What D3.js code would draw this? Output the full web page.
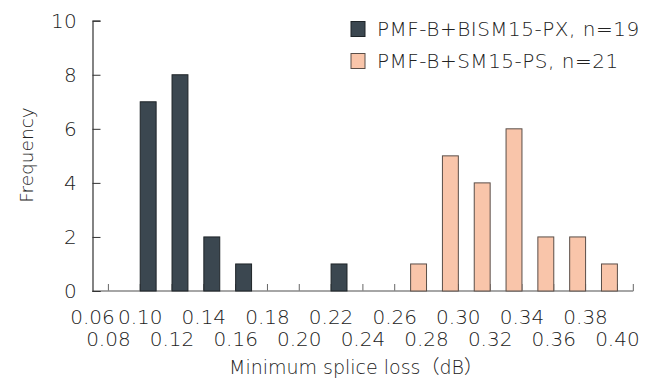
<!DOCTYPE html>
<html>
<head>
<meta charset="utf-8">
<script src="https://cdn.jsdelivr.net/npm/d3@7"></script>
<style>
  html, body { margin: 0; padding: 0; background: #fff; }
  svg text { font-family: "DejaVu Sans", "Noto Sans CJK JP", sans-serif; font-weight: 200; fill: #222; }
</style>
</head>
<body>
<svg id="chart" width="664" height="378"></svg>
<script>
// Histogram bins (lower edge of each 0.02 dB bin)
const binStarts = [0.08, 0.10, 0.12, 0.14, 0.16, 0.18, 0.20, 0.22, 0.24, 0.26, 0.28, 0.30, 0.32, 0.34, 0.36, 0.38];
// Counts per bin for each fiber combination
const bismCounts = [0, 7, 8, 2, 1, 0, 0, 1, 0, 0, 0, 0, 0, 0, 0, 0];
const smCounts   = [0, 0, 0, 0, 0, 0, 0, 0, 0, 1, 5, 4, 6, 2, 2, 1];
const seriesNames = ["PMF-B+BISM15-PX, n=19", "PMF-B+SM15-PS, n=21"];
const seriesColors = ["#3b4750", "#f9c5aa"];
const seriesStrokes = ["#1e2428", "#5a4e48"];
// Axis tick labels
const xTickLabels = ["0.06", "0.08", "0.10", "0.12", "0.14", "0.16", "0.18", "0.20", "0.22",
                     "0.24", "0.26", "0.28", "0.30", "0.32", "0.34", "0.36", "0.38", "0.40"];
const yTicks = [0, 2, 4, 6, 8, 10];
const binWidth = 0.02;

const svg = d3.select("#chart");

const x = d3.scaleLinear().domain([0.07, 0.41]).range([92.5, 633.3]);
const y = d3.scaleLinear().domain([0, 10]).range([291, 20.7]);

// x-axis ticks (pointing up into the plot) and axis line
const xTickVals = binStarts.concat([0.40, 0.41]);
svg.append("g").selectAll("line").data(xTickVals).join("line")
  .attr("x1", d => x(d)).attr("x2", d => x(d))
  .attr("y1", y(0)).attr("y2", y(0) - 7)
  .attr("stroke", "#666").attr("stroke-width", 1);
svg.append("line")
  .attr("x1", x(0.07)).attr("x2", x(0.41))
  .attr("y1", y(0)).attr("y2", y(0))
  .attr("stroke", "#888").attr("stroke-width", 1.5);

// Bars: first series in the left half of each bin, second in the right half
const bars = [];
binStarts.forEach((b, i) => {
  if (bismCounts[i] > 0) bars.push({ x0: b, x1: b + binWidth / 2, v: bismCounts[i], s: 0 });
  if (smCounts[i] > 0) bars.push({ x0: b + binWidth / 2, x1: b + binWidth, v: smCounts[i], s: 1 });
});
svg.append("g").selectAll("rect").data(bars).join("rect")
  .attr("x", d => x(d.x0))
  .attr("width", d => x(d.x1) - x(d.x0))
  .attr("y", d => y(d.v))
  .attr("height", d => y(0) - y(d.v))
  .attr("fill", d => seriesColors[d.s])
  .attr("stroke", d => seriesStrokes[d.s])
  .attr("stroke-width", 1);

// y axis
const yAxis = d3.axisRight(y).tickValues(yTicks).tickSize(8).tickFormat("");
const gy = svg.append("g").attr("transform", `translate(${x(0.07)},0)`).call(yAxis);
gy.select(".domain").attr("stroke", "#333").attr("stroke-width", 1.2);
gy.selectAll(".tick line").attr("stroke", "#333");
svg.append("g").selectAll("text").data(yTicks).join("text")
  .attr("x", 77).attr("y", d => y(d))
  .attr("dy", "0.36em")
  .attr("text-anchor", "end")
  .style("font-size", "20px")
  .style("letter-spacing", "0.3px")
  .text(d => d);

// x tick labels, staggered over two rows
const [xr0, xr1] = x.range();
svg.append("g").selectAll("text").data(xTickLabels).join("text")
  .attr("x", d => Math.max(xr0, Math.min(xr1 - 8, x(+d))))
  .attr("y", (d, i) => i % 2 === 0 ? 317 : 339)
  .attr("dy", "0.36em")
  .attr("text-anchor", "middle")
  .style("font-size", "20px")
  .text(d => d);

// Axis titles
svg.append("text")
  .attr("x", 356).attr("y", 367).attr("dy", "0.36em")
  .attr("text-anchor", "middle")
  .style("font-size", "19px")
  .text("Minimum splice loss（dB）");
svg.append("text")
  .attr("transform", "translate(26,155) rotate(-90)")
  .attr("dy", "0.36em")
  .attr("text-anchor", "middle")
  .style("font-size", "18.5px")
  .text("Frequency");

// Legend
const legend = svg.append("g").selectAll("g").data(seriesNames).join("g")
  .attr("transform", (d, i) => `translate(351,${[29, 61][i]})`);
legend.append("rect")
  .attr("x", 0).attr("y", -7.5).attr("width", 14).attr("height", 15)
  .attr("fill", (d, i) => seriesColors[i])
  .attr("stroke", (d, i) => seriesStrokes[i]).attr("stroke-width", 1);
legend.append("text")
  .attr("x", 26).attr("dy", "0.36em")
  .style("font-size", "20px")
  .style("letter-spacing", "0.5px")
  .text(d => d);
</script>
</body>
</html>
